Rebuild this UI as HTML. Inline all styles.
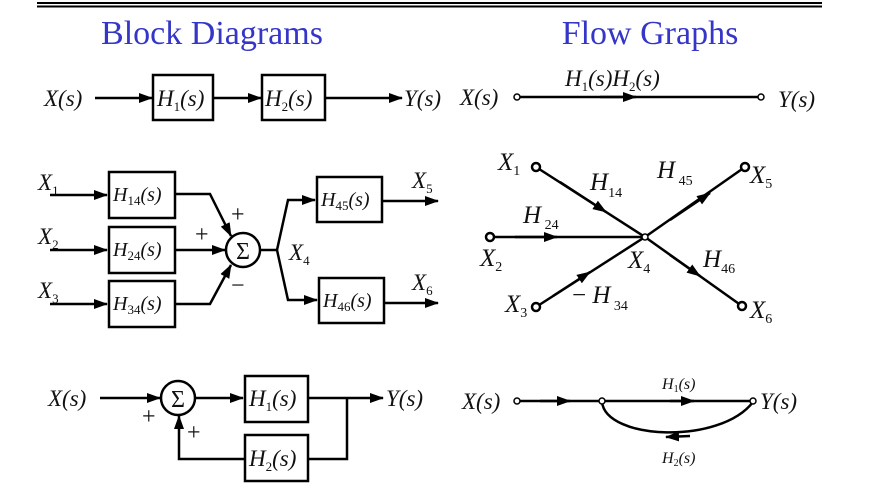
<!DOCTYPE html>
<html><head><meta charset="utf-8"><style>
html,body{margin:0;padding:0;background:#fff;width:869px;height:502px;overflow:hidden}
svg{display:block}
text{font-family:"Liberation Serif",serif;fill:#111}
.m{font-style:italic;font-size:23px}
.s{font-size:13px;font-style:normal}
.t{font-family:"Liberation Serif",serif;font-size:34px;fill:#3535c8}
line,path,polyline,rect,circle{stroke:#000;stroke-width:2.5;fill:none}
.ah{fill:#000;stroke:none}
</style></head><body>
<svg width="869" height="502" viewBox="0 0 869 502">
<defs><marker id="a" markerWidth="14" markerHeight="10" refX="13" refY="5" orient="auto" markerUnits="userSpaceOnUse"><path class="ah" d="M0,0 L14,5 L0,10Z" style="fill:#000;stroke:none"/></marker></defs>
<g>
<line x1="37" y1="3" x2="822" y2="3" style="stroke-width:2"/><line x1="37" y1="6.5" x2="822" y2="6.5" style="stroke-width:2"/></g>
<text class="t" x="212" y="44" text-anchor="middle">Block Diagrams</text>
<text class="t" x="650" y="44" text-anchor="middle">Flow Graphs</text>

<g>
<text class="m" x="44" y="106">X(s)</text>
<line x1="95" y1="98" x2="152" y2="98" marker-end="url(#a)"/>
<rect x="153" y="75" width="60" height="45"/>
<text class="m" x="157" y="106">H<tspan class="s" dy="5">1</tspan><tspan dy="-5">(s)</tspan></text>
<line x1="213" y1="98" x2="261" y2="98" marker-end="url(#a)"/>
<rect x="262" y="75" width="63" height="45"/>
<text class="m" x="265" y="106">H<tspan class="s" dy="5">2</tspan><tspan dy="-5">(s)</tspan></text>
<line x1="325" y1="98" x2="402" y2="98" marker-end="url(#a)"/>
<text class="m" x="404" y="106">Y(s)</text>
</g>

<g>
<text class="m" x="38" y="190">X<tspan class="s" dy="5">1</tspan></text>
<text class="m" x="38" y="244">X<tspan class="s" dy="5">2</tspan></text>
<text class="m" x="38" y="298">X<tspan class="s" dy="5">3</tspan></text>
<line x1="50" y1="195" x2="107" y2="195" marker-end="url(#a)"/>
<line x1="50" y1="250" x2="107" y2="250" marker-end="url(#a)"/>
<line x1="50" y1="304" x2="107" y2="304" marker-end="url(#a)"/>
<rect x="109" y="172" width="66" height="46"/>
<rect x="109" y="227" width="66" height="46"/>
<rect x="109" y="281" width="66" height="46"/>
<text class="m" x="113" y="201" style="font-size:20px">H<tspan class="s" dy="4">14</tspan><tspan dy="-4">(s)</tspan></text>
<text class="m" x="113" y="256" style="font-size:20px">H<tspan class="s" dy="4">24</tspan><tspan dy="-4">(s)</tspan></text>
<text class="m" x="113" y="310" style="font-size:20px">H<tspan class="s" dy="4">34</tspan><tspan dy="-4">(s)</tspan></text>
<polyline points="175,194 210,194 231,236" marker-end="url(#a)"/>
<line x1="175" y1="250" x2="225" y2="250" marker-end="url(#a)"/>
<polyline points="175,304 210,304 231,265" marker-end="url(#a)"/>
<circle cx="243" cy="250" r="17"/>
<text x="243" y="259" text-anchor="middle" style="font-size:24px">Σ</text>
<text x="231" y="222" style="font-size:24px">+</text>
<text x="195" y="242" style="font-size:24px">+</text>
<text x="231" y="293" style="font-size:24px">−</text>
<line x1="260" y1="250" x2="277" y2="250"/>
<polyline points="277,250 288,200 315,200" marker-end="url(#a)"/>
<polyline points="277,250 288,300 317,300" marker-end="url(#a)"/>
<text class="m" x="289" y="260">X<tspan class="s" dy="5">4</tspan></text>
<rect x="317" y="177" width="65" height="45"/>
<rect x="319" y="278" width="65" height="45"/>
<text class="m" x="321" y="206" style="font-size:20px">H<tspan class="s" dy="4">45</tspan><tspan dy="-4">(s)</tspan></text>
<text class="m" x="323" y="307" style="font-size:20px">H<tspan class="s" dy="4">46</tspan><tspan dy="-4">(s)</tspan></text>
<line x1="382" y1="201" x2="438" y2="201" marker-end="url(#a)"/>
<line x1="384" y1="303" x2="438" y2="303" marker-end="url(#a)"/>
<text class="m" x="412" y="188">X<tspan class="s" dy="5">5</tspan></text>
<text class="m" x="412" y="290">X<tspan class="s" dy="5">6</tspan></text>
</g>

<g>
<text class="m" x="48" y="406">X(s)</text>
<line x1="100" y1="398" x2="160" y2="398" marker-end="url(#a)"/>
<circle cx="178" cy="398" r="17"/>
<text x="178" y="407" text-anchor="middle" style="font-size:24px">Σ</text>
<text x="142" y="424" style="font-size:24px">+</text>
<text x="187" y="440" style="font-size:24px">+</text>
<line x1="195" y1="398" x2="243" y2="398" marker-end="url(#a)"/>
<rect x="245" y="376" width="63" height="46"/>
<text class="m" x="249" y="406">H<tspan class="s" dy="5">1</tspan><tspan dy="-5">(s)</tspan></text>
<line x1="308" y1="398" x2="383" y2="398" marker-end="url(#a)"/>
<text class="m" x="386" y="406">Y(s)</text>
<polyline points="347,398 347,459 308,459"/>
<rect x="245" y="435" width="63" height="46"/>
<text class="m" x="249" y="466">H<tspan class="s" dy="5">2</tspan><tspan dy="-5">(s)</tspan></text>
<polyline points="245,459 179,459 179,416" marker-end="url(#a)"/>
</g>

<g>
<text class="m" x="460" y="105">X(s)</text>
<line x1="520" y1="97" x2="758" y2="97"/>
<line x1="600" y1="97" x2="636" y2="97" marker-end="url(#a)"/>
<circle cx="517" cy="97" r="3" style="stroke-width:1.5;fill:#fff"/>
<circle cx="761" cy="97" r="3" style="stroke-width:1.5;fill:#fff"/>
<text class="m" x="565" y="86">H<tspan class="s" dy="5">1</tspan><tspan dy="-5">(s)H</tspan><tspan class="s" dy="5">2</tspan><tspan dy="-5">(s)</tspan></text>
<text class="m" x="778" y="107">Y(s)</text>
</g>

<g>
<line x1="536" y1="167" x2="645" y2="237"/>
<line x1="645" y1="237" x2="745" y2="167"/>
<line x1="490" y1="237" x2="645" y2="237"/>
<line x1="536" y1="307" x2="645" y2="237"/>
<line x1="645" y1="237" x2="742" y2="306"/>
<line x1="560" y1="182" x2="606" y2="212" marker-end="url(#a)"/>
<line x1="670" y1="220" x2="710" y2="193" marker-end="url(#a)"/>
<line x1="515" y1="237" x2="557" y2="237" marker-end="url(#a)"/>
<line x1="553" y1="296" x2="590" y2="272" marker-end="url(#a)"/>
<line x1="670" y1="255" x2="700" y2="276" marker-end="url(#a)"/>
<circle cx="536" cy="167" r="4" style="fill:#fff;stroke-width:2.5"/>
<circle cx="745" cy="167" r="4" style="fill:#fff;stroke-width:2.5"/>
<circle cx="490" cy="237" r="4" style="fill:#fff;stroke-width:2.5"/>
<circle cx="645" cy="237" r="3" style="fill:#fff;stroke-width:1.5"/>
<circle cx="536" cy="307" r="4" style="fill:#fff;stroke-width:2.5"/>
<circle cx="742" cy="306" r="4" style="fill:#fff;stroke-width:2.5"/>
<text class="m" x="498" y="170" style="font-size:25px">X<tspan class="s" style="font-size:14px" dy="5">1</tspan></text>
<text class="m" x="590" y="190" style="font-size:25px">H<tspan class="s" style="font-size:14px" dy="7">14</tspan></text>
<text class="m" x="657" y="178" style="font-size:25px">H<tspan class="s" style="font-size:14px" dy="7"> 45</tspan></text>
<text class="m" x="750" y="183" style="font-size:25px">X<tspan class="s" style="font-size:14px" dy="5">5</tspan></text>
<text class="m" x="523" y="223" style="font-size:25px">H<tspan class="s" style="font-size:14px" dy="6"> 24</tspan></text>
<text class="m" x="480" y="266" style="font-size:25px">X<tspan class="s" style="font-size:14px" dy="5">2</tspan></text>
<text class="m" x="628" y="268" style="font-size:25px">X<tspan class="s" style="font-size:14px" dy="5">4</tspan></text>
<text class="m" x="703" y="267" style="font-size:25px">H<tspan class="s" style="font-size:14px" dy="6">46</tspan></text>
<text class="m" x="505" y="312" style="font-size:25px">X<tspan class="s" style="font-size:14px" dy="5">3</tspan></text>
<text class="m" x="572" y="303" style="font-size:25px"><tspan style="font-style:normal">−</tspan> H<tspan class="s" style="font-size:14px" dy="7"> 34</tspan></text>
<text class="m" x="750" y="318" style="font-size:25px">X<tspan class="s" style="font-size:14px" dy="5">6</tspan></text>
</g>

<g>
<text class="m" x="462" y="409">X(s)</text>
<line x1="520" y1="401" x2="750" y2="401"/>
<line x1="540" y1="401" x2="570" y2="401" marker-end="url(#a)"/>
<line x1="670" y1="401" x2="694" y2="401" marker-end="url(#a)"/>
<path d="M602,402 C606,440 720,445 753,402"/>
<line x1="690" y1="436" x2="666" y2="437" marker-end="url(#a)"/>
<circle cx="517" cy="401" r="3" style="fill:#fff;stroke-width:1.5"/>
<circle cx="602" cy="401" r="3" style="fill:#fff;stroke-width:1.5"/>
<circle cx="753" cy="401" r="3" style="fill:#fff;stroke-width:1.5"/>
<text class="m" x="662" y="389" style="font-size:16px">H<tspan class="s" style="font-size:10px" dy="3">1</tspan><tspan dy="-3">(s)</tspan></text>
<text class="m" x="662" y="463" style="font-size:16px">H<tspan class="s" style="font-size:10px" dy="3">2</tspan><tspan dy="-3">(s)</tspan></text>
<text class="m" x="760" y="409">Y(s)</text>
</g>
</svg>
</body></html>
